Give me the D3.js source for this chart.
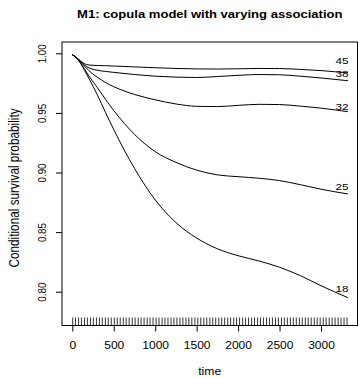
<!DOCTYPE html>
<head>
<meta charset="utf-8">
<title>M1 copula model</title>
<script src="https://d3js.org/d3.v7.min.js"></script>
<style>
body { margin: 0; background: #fff; }
text { font-family: "Liberation Sans", Arial, sans-serif; fill: #000; }
</style>
</head>
<body>
<script>
// follow-up times where the curves were evaluated
var times = [0, 50, 100, 150, 200, 300, 400, 500, 750, 1000, 1250, 1500, 1750, 2000, 2250, 2500, 2750, 3000, 3325];
// conditional survival curves by age
var s45 = [0.9988, 0.9965, 0.9935, 0.9912, 0.9902, 0.9898, 0.9896, 0.9893, 0.9886, 0.9879, 0.9873, 0.9869, 0.9868, 0.9870, 0.9873, 0.9872, 0.9865, 0.9855, 0.9835];
var s38 = [0.9988, 0.9964, 0.9932, 0.9900, 0.9878, 0.9858, 0.9848, 0.9840, 0.9822, 0.9808, 0.9800, 0.9797, 0.9805, 0.9815, 0.9822, 0.9820, 0.9808, 0.9793, 0.9770];
var s32 = [0.9988, 0.9965, 0.9930, 0.9890, 0.9855, 0.9800, 0.9755, 0.9720, 0.9655, 0.9610, 0.9575, 0.9555, 0.9553, 0.9563, 0.9572, 0.9570, 0.9557, 0.9540, 0.9510];
var s25 = [0.9988, 0.9962, 0.9920, 0.9865, 0.9810, 0.9715, 0.9615, 0.9520, 0.9320, 0.9175, 0.9085, 0.9020, 0.8980, 0.8965, 0.8952, 0.8932, 0.8898, 0.8860, 0.8820];
var s18 = [0.9988, 0.9961, 0.9915, 0.9855, 0.9790, 0.9655, 0.9505, 0.9360, 0.9035, 0.8770, 0.8580, 0.8450, 0.8360, 0.8302, 0.8258, 0.8205, 0.8135, 0.8050, 0.7950];
var curveNames = ["45", "38", "32", "25", "18"];
var labelVals = [0.9940, 0.9833, 0.9554, 0.8883, 0.8027];
var labelTime = 3253;
// observed times for the rug
var rugTimes = [5, 38, 76, 110, 148, 182, 220, 254, 291, 327, 362, 399, 434, 470, 507, 542, 578, 615, 650, 686,
  723, 758, 795, 830, 866, 903, 938, 974, 1011, 1046, 1083, 1118, 1154, 1191, 1226, 1262, 1299, 1334, 1371, 1406,
  1442, 1479, 1514, 1550, 1587, 1622, 1659, 1694, 1730, 1767, 1802, 1838, 1875, 1910, 1947, 1982, 2018, 2055, 2090,
  2126, 2163, 2198, 2235, 2270, 2306, 2343, 2378, 2414, 2451, 2486, 2523, 2558, 2594, 2631, 2666, 2702, 2739, 2774,
  2811, 2846, 2882, 2919, 2954, 2990, 3027, 3062, 3099, 3134, 3170, 3207, 3242, 3278, 3314];
var xTicks = [0, 500, 1000, 1500, 2000, 2500, 3000];
var yTicks = [0.80, 0.85, 0.90, 0.95, 1.00];

var width = 359, height = 378;
var box = {left: 62, right: 357.5, top: 42, bottom: 325.5};
var kx = 1.2; // the glyphs are a little wider than tall

var svg = d3.select("body").append("svg")
  .attr("width", width)
  .attr("height", height);

var x = d3.scaleLinear().domain([0, 3000]).range([72.3, 321]);
var y = d3.scaleLinear().domain([0.80, 1.00]).range([291.7, 53.3]);

// title
svg.append("text")
  .attr("transform", "translate(" + ((box.left + box.right) / 2) + ",18) scale(" + kx + ",1)")
  .attr("text-anchor", "middle")
  .style("font-weight", "bold")
  .style("font-size", "10.9px")
  .text("M1: copula model with varying association");

// curves
var series = [s45, s38, s32, s25, s18];
var line = d3.line()
  .x(function(d) { return x(d[0]); })
  .y(function(d) { return y(d[1]); })
  .curve(d3.curveMonotoneX);
svg.selectAll("path.surv")
  .data(series).enter().append("path")
  .attr("class", "surv")
  .attr("fill", "none")
  .attr("stroke", "#000")
  .attr("stroke-width", 1)
  .attr("d", function(s) { return line(times.map(function(t, i) { return [t, s[i]]; })); });

// curve labels
svg.selectAll("text.lab")
  .data(curveNames).enter().append("text")
  .attr("class", "lab")
  .attr("transform", function(d, i) { return "translate(" + x(labelTime) + "," + (y(labelVals[i]) + 3.5) + ") scale(" + kx + ",1)"; })
  .attr("text-anchor", "middle")
  .style("font-size", "9.8px")
  .text(function(d) { return d; });

// rug
svg.selectAll("line.rug")
  .data(rugTimes).enter().append("line")
  .attr("class", "rug")
  .attr("x1", function(d) { return x(d); })
  .attr("x2", function(d) { return x(d); })
  .attr("y1", box.bottom)
  .attr("y2", box.bottom - 8)
  .attr("stroke", "#000")
  .attr("stroke-width", 0.8);

// box
svg.append("rect")
  .attr("x", box.left).attr("y", box.top)
  .attr("width", box.right - box.left).attr("height", box.bottom - box.top)
  .attr("fill", "none").attr("stroke", "#000").attr("stroke-width", 1);

// x axis
var gx = svg.append("g")
  .attr("transform", "translate(0," + box.bottom + ")")
  .call(d3.axisBottom(x).tickValues(xTicks).tickSize(6).tickPadding(10).tickFormat(d3.format("d")));
gx.select(".domain").remove();
gx.selectAll("text")
  .attr("transform", "scale(" + kx + ",1)")
  .style("font-size", "10px")
  .style("font-family", "Liberation Sans, Arial, sans-serif");

// y axis
var gy = svg.append("g")
  .attr("transform", "translate(" + box.left + ",0)")
  .call(d3.axisLeft(y).tickValues(yTicks).tickSize(6).tickFormat(d3.format(".2f")));
gy.select(".domain").remove();
gy.selectAll("text")
  .attr("x", null).attr("dy", null)
  .attr("text-anchor", "middle")
  .attr("transform", "translate(-16.5,0) scale(" + kx + ",1) rotate(-90)")
  .style("font-size", "9.8px")
  .style("font-family", "Liberation Sans, Arial, sans-serif");

// axis titles
svg.append("text")
  .attr("transform", "translate(" + ((box.left + box.right) / 2) + ",375) scale(" + kx + ",1)")
  .attr("text-anchor", "middle")
  .style("font-size", "10.2px")
  .text("time");
svg.append("text")
  .attr("transform", "translate(18.5,188) scale(" + kx + ",1) rotate(-90)")
  .attr("text-anchor", "middle")
  .style("font-size", "11.8px")
  .text("Conditional survival probability");
</script>
</body>
